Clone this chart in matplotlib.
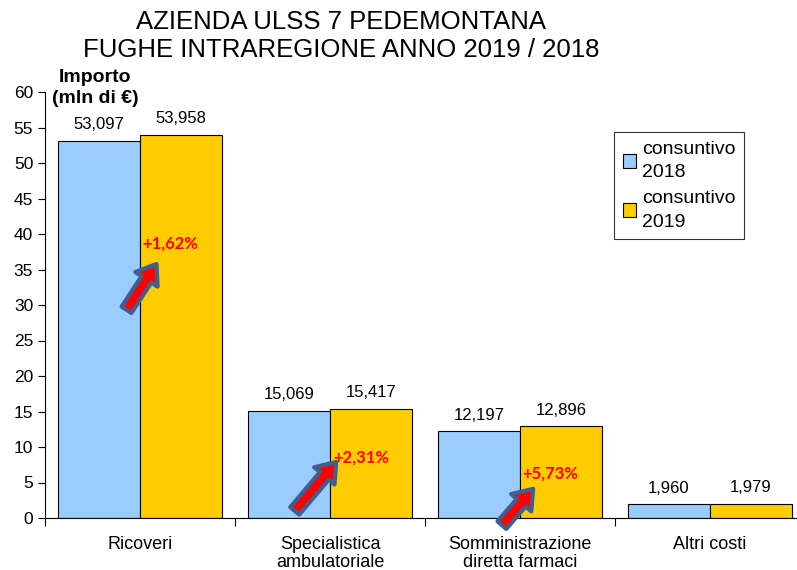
import matplotlib
matplotlib.use("Agg")
import matplotlib.pyplot as plt
from matplotlib.patches import FancyArrowPatch
import numpy as np

categories = ["Ricoveri", "Specialistica\nambulatoriale", "Somministrazione\ndiretta farmaci", "Altri costi"]
values_2018 = [53.097, 15.069, 12.197, 1.960]
values_2019 = [53.958, 15.417, 12.896, 1.979]
labels_2018 = ["53,097", "15,069", "12,197", "1,960"]
labels_2019 = ["53,958", "15,417", "12,896", "1,979"]
series_names = ["consuntivo\n2018", "consuntivo\n2019"]
growth_labels = ["+1,62%", "+2,31%", "+5,73%"]

plt.rcParams['font.family'] = ['Liberation Sans', 'DejaVu Sans']

fig = plt.figure(figsize=(7.97, 5.70), dpi=100)
ax = fig.add_axes([45/797, 52/570, 760/797, 426/570])

x = np.arange(len(categories))
w = 82/190
b1 = ax.bar(x - w/2, values_2018, w, color="#99CCFF", edgecolor="black", linewidth=0.8, label=series_names[0])
b2 = ax.bar(x + w/2, values_2019, w, color="#FFCC00", edgecolor="black", linewidth=0.8, label=series_names[1])

for xi, v, l in zip(x - w/2, values_2018, labels_2018):
    ax.text(xi, v + 1.2, l, ha="center", va="bottom", fontsize=12)
for xi, v, l in zip(x + w/2, values_2019, labels_2019):
    ax.text(xi, v + 1.2, l, ha="center", va="bottom", fontsize=12)

ax.set_xlim(-0.5, 3.5)
ax.set_ylim(0, 60)
ax.set_yticks(np.arange(0, 61, 5))
ax.tick_params(axis="y", labelsize=12.5, direction="out", length=5)
ax.set_xticks(np.arange(-0.5, 3.6, 1.0))
ax.set_xticklabels([])
ax.set_xticks(x, minor=True)
ax.set_xticklabels(categories, minor=True, fontsize=13, linespacing=1.05)
ax.tick_params(axis="x", which="minor", length=0, pad=13)
ax.tick_params(axis="x", which="major", length=6, direction="out")
ax.spines["top"].set_visible(False)
ax.spines["right"].set_visible(False)

# growth arrows (start, end in data coords)
arrow_pos = [((-0.079, 29.0), (0.095, 36.1)),
             ((-0.195, 0.7), (0.042, 8.2)),
             ((-0.105, -1.3), (0.079, 4.4))]
text_pos = [(0.01, 38.6), (0.016, 8.5), (0.01, 6.2)]
for i, ((s, e), tp, g) in enumerate(zip(arrow_pos, text_pos, growth_labels)):
    s = (i + s[0], s[1]); e = (i + e[0], e[1])
    a = FancyArrowPatch(s, e, arrowstyle="simple,head_width=1.6,head_length=1.1,tail_width=0.7",
                        mutation_scale=12, fc="red", ec="#3F5F8F", lw=3, clip_on=False, zorder=5)
    ax.add_patch(a)
    ax.text(i + tp[0], tp[1], g, color="red", fontweight="bold", fontsize=12,
            ha="left", va="center", zorder=6, family=['Lato', 'DejaVu Sans'])

fig.text(341/797, 1 - 36/570, "AZIENDA ULSS 7 PEDEMONTANA\nFUGHE INTRAREGIONE ANNO 2019 / 2018",
         ha="center", va="center", fontsize=18.5, linespacing=1.2)
fig.text(95/797, 1 - 88/570, "Importo\n(mln di €)", ha="center", va="center",
         fontsize=14, fontweight="bold", linespacing=1.3)

leg = ax.legend(loc="upper left", bbox_to_anchor=((614-45)/760, (518-132)/426), fontsize=14,
                frameon=True, fancybox=False, edgecolor="black", handlelength=0.7, handleheight=0.7,
                handletextpad=0.3, borderpad=0.45, labelspacing=0.45, borderaxespad=0)
for t in leg.get_texts():
    t.set_linespacing(1.5)
leg.get_frame().set_linewidth(0.8)

fig.savefig("out.png", dpi=100)
